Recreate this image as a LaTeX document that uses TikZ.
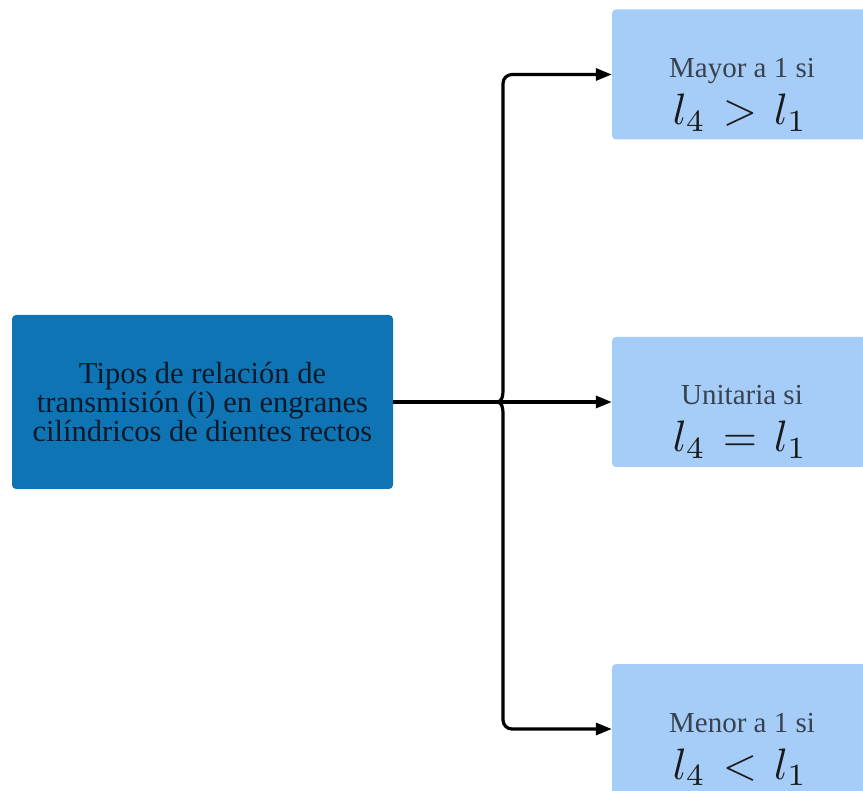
\documentclass[tikz,border=0pt]{standalone}
\usepackage{graphicx}
\usepackage{fontspec}
\setmainfont{Liberation Serif}
\usetikzlibrary{arrows.meta}

\definecolor{rootblue}{HTML}{0E74B4}
\definecolor{leafblue}{HTML}{A6CDF8}
\definecolor{roottext}{HTML}{0B1A2B}
\definecolor{leaftext}{HTML}{38424E}

% enlarged relation formula
\newcommand{\bigrel}[1]{\scalebox{4.4}{\normalsize\thickmuskip=7mu $#1$}}

\tikzset{
  rootbox/.style={rectangle, rounded corners=4pt, fill=rootblue, inner sep=0pt,
    minimum width=381pt, minimum height=174pt, align=center, text=roottext,
    font=\fontsize{30.5}{29}\selectfont},
  leafbox/.style={rectangle, rounded corners=4pt, fill=leafblue, inner sep=0pt,
    minimum width=260pt, minimum height=130pt},
  leaflabel/.style={anchor=base, inner sep=0pt, text=leaftext,
    font=\fontsize{29}{30}\selectfont},
  leafmath/.style={anchor=base, inner sep=0pt, text=black!90},
  conn/.style={line width=3.2pt, black},
  tip/.style={-{Triangle[length=16pt,width=12pt]}}
}

\begin{document}
\begin{tikzpicture}[x=1pt,y=-1pt]
  \fill[white] (0,0) rectangle (863,791);
  \useasboundingbox (0,0) rectangle (863,791);

  % source box
  \node[rootbox] (src) at (202.5,402)
    {Tipos de relación de\\transmisión (i) en engranes\\cilíndricos de dientes rectos};

  % the three cases
  \node[leafbox] (m1) at (742,74.5) {};
  \node[leafbox] (m2) at (742,402) {};
  \node[leafbox] (m3) at (742,729) {};

  \node[leaflabel] (t1) at (742,78) {Mayor a 1 si};
  \node[leafmath]  (e1) at (740,125) {\bigrel{l_4 > l_1}};
  \node[leaflabel] (t2) at (742,405) {Unitaria si};
  \node[leafmath]  (e2) at (740,452) {\bigrel{l_4 = l_1}};
  \node[leaflabel] (t3) at (742,732) {Menor a 1 si};
  \node[leafmath]  (e3) at (740,779) {\bigrel{l_4 < l_1}};

  % brace-shaped fork
  \coordinate (j) at (497,402);
  \coordinate (bx) at (503,402);
  \coordinate (bup) at (503,391);
  \coordinate (bdn) at (503,413);

  \draw[conn, tip] (src.east) -- (m2.west);
  \draw[conn, tip] (j) to[out=0,in=-90] (bup)
    [rounded corners=9pt] -- (m1.west -| bx) -- (m1.west);
  \draw[conn, tip] (j) to[out=0,in=90] (bdn)
    [rounded corners=9pt] -- (m3.west -| bx) -- (m3.west);
\end{tikzpicture}
\end{document}
